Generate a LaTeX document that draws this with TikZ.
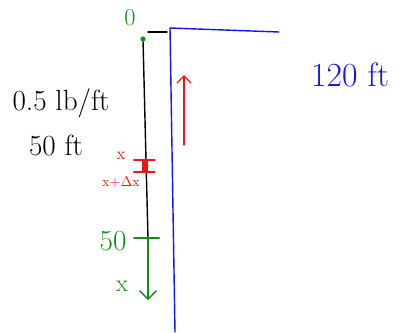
\documentclass[tikz,border=0pt]{standalone}
\usepackage[dvipsnames]{xcolor}
\usepackage{tikz}
\usepackage{amsmath}
\usetikzlibrary{positioning, arrows.meta}

\definecolor{penblue}{RGB}{20,20,240}
\definecolor{pengreen}{RGB}{20,140,20}
\definecolor{penred}{RGB}{240,20,20}

\begin{document}
\begin{tikzpicture}[x=0.025cm, y=-0.025cm,
		ink/.style={line width=1pt, line cap=round},
		txt/.style={inner sep=0pt, font=\huge}]
		\useasboundingbox (0,0) rectangle (401,332);
		% Draw building (blue)
		\coordinate (roofR) at (279,32);
		\coordinate (corner) at (170,28);
		\coordinate (base) at (175,332);
		\draw[ink, penblue] (roofR) -- (corner) -- (base);
		\node[txt, penblue, font=\fontsize{24}{28}\selectfont] (height) at (350,75) {120 ft};
		% Draw rope
		\node[circle, fill=pengreen, inner sep=1.3pt] (top) at (143,39) {};
		\node[txt, pengreen, font=\LARGE] (zero) at (130,18) {0};
		\coordinate (arm) at (167,32);
		\coordinate (armL) at (148,32);
		\draw[ink] (armL) -- (arm);
		\coordinate (tick) at (148,238);
		\draw[ink] (top) -- (146,160) -- (tick);
		\node[txt] (density) at (61,103) {0.5 lb/ft};
		\node[txt] (length) at (56,145) {50 ft};
		% Element x to x+dx
		\coordinate (elA) at (145,160);
		\coordinate (elB) at (145,172);
		\draw[ink, penred] ([xshift=-8]elA) -- ([xshift=7]elA);
		\draw[ink, penred] ([xshift=-8]elB) -- ([xshift=7]elB);
		\draw[penred, line width=4pt] (elA) -- (elB);
		\node[txt, penred, font=\large] (xa) at (121,156) {x};
		\node[txt, penred, font=\normalsize] (xb) at (121,182) {x+$\Delta$x};
		% Red arrow (lifting)
		\coordinate (liftA) at (184,145);
		\coordinate (liftB) at (184,75);
		\draw[ink, penred, -{Straight Barb[length=5pt]}] (liftA) -- (liftB);
		% Axis x (green)
		\coordinate (axisEnd) at (148,300);
		\draw[ink, pengreen, -{Straight Barb[length=6pt]}] (tick) -- (axisEnd);
		\draw[ink, pengreen] ([xshift=-10]tick) -- ([xshift=8]tick);
		\node[txt, pengreen, font=\huge] (fifty) at (113,241) {50};
		\node[txt, pengreen, font=\LARGE] (xvar) at (122,286) {x};
	\end{tikzpicture}
\end{document}
